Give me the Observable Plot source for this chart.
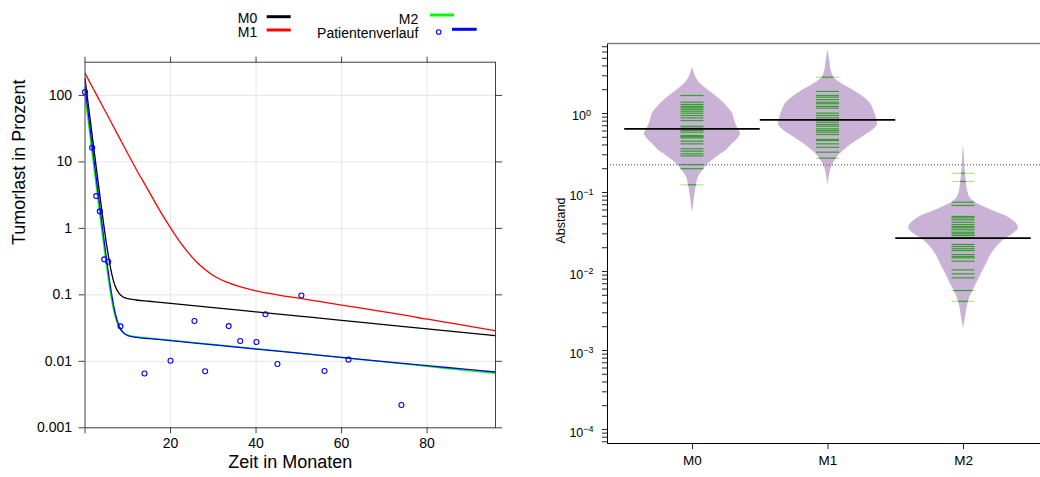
<!DOCTYPE html>
<html><head><meta charset="utf-8">
<script src="https://cdn.jsdelivr.net/npm/d3@7"></script>
<script src="https://cdn.jsdelivr.net/npm/@observablehq/plot@0.6"></script>
<style>
body{margin:0;background:#fff;font-family:"Liberation Sans",Arial,sans-serif;}
#wrap{position:relative;width:1040px;height:477px;overflow:hidden;}
#left{position:absolute;left:0;top:0;}
#right{position:absolute;left:540px;top:0;}
#legend{position:absolute;left:0;top:0;}
</style></head><body>
<div id="wrap"><div id="left"></div><div id="right"></div>
<svg id="legend" width="520" height="45" font-family="Liberation Sans, Arial, sans-serif" font-size="14"></svg></div>
<script>
// ---------- left panel data ----------
const months = [0,1,2,3,4,5,6,7,8,9,10,12,15,20,30,40,50,60,70,80,90,96];
const m0 = [180,55.7,17.3,5.41,1.73,0.60,0.249,0.138,0.104,0.0922,0.0877,0.0837,0.0801,0.0745,0.0642,0.0555,0.0479,0.0413,0.0356,0.0308,0.0265,0.0243];
const m2 = [100,30.2,9.12,2.78,0.86,0.277,0.102,0.0483,0.032,0.0268,0.0249,0.0235,0.0224,0.0208,0.0179,0.0155,0.0133,0.0114,0.0098,0.0084,0.0072,0.0066];
const patientFit = [133,40.2,12.1,3.66,1.13,0.359,0.126,0.0552,0.0336,0.0268,0.0244,0.0229,0.0219,0.0205,0.0177,0.0153,0.0133,0.0115,0.0099,0.0086,0.0075,0.0069];
const monthsM1 = [0,2,4,6,8,10,12,14,16,18,20,22,24,26,28,30,33,36,40,45,50,55,60,65,70,75,80,85,90,96];
const m1 = [216,124,71.3,40.8,23.4,13.4,7.7,4.6,2.73,1.64,1.02,0.655,0.442,0.317,0.242,0.196,0.157,0.134,0.115,0.100,0.089,0.0788,0.0702,0.0624,0.0554,0.0493,0.043,0.0382,0.0336,0.0288];
const patMonths = [0,1.68,2.62,3.46,4.49,5.43,8.30,13.92,20.0,25.6,28.1,33.6,36.3,40.1,42.2,45.0,50.6,56.0,61.6,74.0];
const patValues = [112,16.3,3.06,1.80,0.342,0.315,0.0336,0.00655,0.0102,0.0404,0.0071,0.0339,0.0202,0.0195,0.051,0.0091,0.098,0.00715,0.0106,0.0022];
const xTicks = [0,20,40,60,80];
const yTicks = [0.001,0.01,0.1,1,10,100];
const yTickLabels = ["0.001","0.01","0.1","1","10","100"];
const legendLabels = ["M0","M1","M2","Patientenverlauf"];

// ---------- right panel data ----------
const groups = ["M0","M1","M2"];
const beanM0Abstand = [3.855,3.18,2.62,2.15,1.775,1.46,1.20,0.991,0.815,0.671,0.553,0.479,0.413,0.34,0.28,0.231,0.19,0.156,0.117,0.0872,0.0685,0.0558];
const beanM0Width   = [0,0.0148,0.039,0.0886,0.15,0.212,0.26,0.297,0.31,0.33,0.354,0.334,0.297,0.249,0.177,0.118,0.076,0.044,0.027,0.0148,0.0074,0];
const beanM1Abstand = [6.4,4.69,3.5,2.88,2.38,1.955,1.61,1.33,1.09,0.857,0.705,0.61,0.501,0.413,0.34,0.28,0.231,0.19,0.156,0.123];
const beanM1Width   = [0,0.0133,0.0236,0.0428,0.103,0.19,0.264,0.314,0.338,0.358,0.363,0.326,0.252,0.179,0.117,0.068,0.038,0.018,0.0089,0];
const beanM2Abstand = [0.394,0.309,0.209,0.142,0.106,0.0872,0.0754,0.0652,0.0564,0.0487,0.0402,0.0347,0.030,0.0247,0.0203,0.0168,0.0138,0.0113,0.00935,0.00769,0.00632,0.00522,0.0043,0.00353,0.00264,0.00197,0.00188];
const beanM2Width   = [0,0.0052,0.0096,0.02,0.0295,0.0465,0.0834,0.157,0.2435,0.33,0.391,0.404,0.367,0.293,0.2435,0.207,0.182,0.157,0.133,0.108,0.0834,0.059,0.039,0.027,0.0148,0.0022,0];
const obsM0 = [1.69,1.39,1.30,1.23,1.18,1.13,1.07,1.01,0.944,0.88,0.815,0.69,0.652,0.61,0.58,0.527,0.51,0.492,0.446,0.413,0.357,0.333,0.309,0.291,0.226,0.2,0.125];
const obsM1 = [2.88,1.90,1.69,1.61,1.50,1.39,1.33,1.23,1.17,1.01,0.944,0.88,0.832,0.776,0.726,0.69,0.64,0.61,0.58,0.542,0.469,0.455,0.413,0.374,0.324,0.272];
const obsM2 = [0.175,0.138,0.0754,0.0685,0.0497,0.0478,0.0451,0.042,0.0393,0.0371,0.0357,0.0337,0.0314,0.030,0.0286,0.0267,0.022,0.0207,0.0194,0.0184,0.0164,0.0155,0.0149,0.0135,0.0105,0.00935,0.0083,0.00575,0.0042];
const groupMeans = [0.64,0.83,0.0264];
const overallMean = 0.224;
const decadeTicks = [1e-4,1e-3,1e-2,1e-1,1];
const decadeLabels = ["10^-4","10^-3","10^-2","10^-1","10^0"];

const FONT = "Liberation Sans, Arial, Helvetica, sans-serif";

// ---------- left plot ----------
const rows = (xs, ys) => xs.map((t,i)=>({t, v: ys[i]}));
const left = Plot.plot({
  width: 520, height: 477,
  marginLeft: 84.5, marginRight: 25, marginTop: 61.7, marginBottom: 49.7,
  style: {fontFamily: FONT, fontSize: "14px", color: "#000", background: "transparent"},
  x: {domain: [0, 96]},
  y: {type: "log", domain: [0.001, 316.2]},
  marks: [
    Plot.gridX(xTicks.slice(1), {stroke: "#e6e6e6", strokeOpacity: 1}),
    Plot.gridY(yTicks, {stroke: "#e6e6e6", strokeOpacity: 1}),
    Plot.line(rows(months, m0), {x: "t", y: "v", stroke: "black", strokeWidth: 1.3, curve: "monotone-x", clip: true}),
    Plot.line(rows(monthsM1, m1), {x: "t", y: "v", stroke: "#ff0000", strokeWidth: 1.3, curve: "monotone-x", clip: true}),
    Plot.line(rows(months, m2), {x: "t", y: "v", stroke: "#00ff00", strokeWidth: 1.3, curve: "monotone-x", clip: true}),
    Plot.line(rows(months, patientFit), {x: "t", y: "v", stroke: "#0000ff", strokeWidth: 1.3, curve: "monotone-x", clip: true}),
    Plot.dot(rows(patMonths, patValues), {x: "t", y: "v", r: 2.5, stroke: "#0000ff", fill: "none", strokeWidth: 1.1}),
    Plot.frame({stroke: "#404040"}),
    Plot.axisX(xTicks, {anchor: "bottom", tickSize: 6, tickPadding: 4, stroke: "#404040", fontSize: 14,
      tickFormat: d => d === 0 ? "" : String(d), label: null}),
    Plot.axisX(xTicks, {anchor: "top", tickSize: 6, stroke: "#404040", tickFormat: () => "", label: null}),
    Plot.axisY(yTicks, {anchor: "left", tickSize: 6, tickPadding: 7, stroke: "#404040", fontSize: 14,
      tickFormat: d => yTickLabels[yTicks.indexOf(d)], label: null}),
    Plot.axisY(yTicks, {anchor: "right", tickSize: 6, stroke: "#404040", tickFormat: () => "", label: null}),
    Plot.text(["Zeit in Monaten"], {frameAnchor: "bottom", dy: 40.5, fontSize: 18, fill: "#000"}),
    Plot.text(["Tumorlast in Prozent"], {frameAnchor: "left", dx: -66, rotate: -90, fontSize: 18, fill: "#000"})
  ]
});
document.getElementById("left").append(left);

// ---------- right plot ----------
const xmin = 0.373, xmax = 3.568;
const ylo = Math.pow(10, -4.177), yhi = Math.pow(10, 0.886);
const beanAbstand = [beanM0Abstand, beanM1Abstand, beanM2Abstand];
const beanWidth = [beanM0Width, beanM1Width, beanM2Width];
const obs = [obsM0, obsM1, obsM2];
const beanRows = [];
groups.forEach((g, gi) => beanAbstand[gi].forEach((v, i) =>
  beanRows.push({g, v, xl: gi + 1 - beanWidth[gi][i], xr: gi + 1 + beanWidth[gi][i]})));
function widthAt(gi, v) {
  const a = beanAbstand[gi], w = beanWidth[gi], lv = Math.log10(v);
  for (let i = 0; i < a.length - 1; i++) {
    const l0 = Math.log10(a[i]), l1 = Math.log10(a[i+1]);
    if ((lv <= l0 && lv >= l1)) { const f = (lv - l0) / (l1 - l0); return w[i] + f * (w[i+1] - w[i]); }
  }
  return 0;
}
const LL = 0.085;
const obsRows = [];
groups.forEach((g, gi) => obs[gi].forEach(v => obsRows.push({g, c: gi + 1, v, hw: Math.min(LL, widthAt(gi, v))})));
const outsideRows = obsRows.filter(d => d.hw < LL);
const meanRows = groupMeans.map((v, i) => ({c: i + 1, v}));
const minorTicks = [];
for (let k = -5; k <= 0; k++) for (let m = 1; m <= 9; m++) { const t = m * Math.pow(10, k); if (t >= ylo && t <= yhi) minorTicks.push(t); }

const right = Plot.plot({
  width: 500, height: 477,
  marginLeft: 67, marginRight: 0, marginTop: 43, marginBottom: 34,
  style: {fontFamily: FONT, fontSize: "13px", color: "#000", background: "transparent"},
  x: {domain: [xmin, xmax]},
  y: {type: "log", domain: [ylo, yhi]},
  marks: [
    Plot.areaX(beanRows, {y: "v", x1: "xl", x2: "xr", z: "g", fill: "#cab2d6", curve: "catmull-rom"}),
    Plot.ruleY([overallMean], {stroke: "#444", strokeWidth: 1, strokeDasharray: "1,2"}),
    Plot.ruleY(outsideRows, {y: "v", x1: d => d.c - LL, x2: d => d.c - d.hw, stroke: "#b2df8a", strokeWidth: 1.1}),
    Plot.ruleY(outsideRows, {y: "v", x1: d => d.c + d.hw, x2: d => d.c + LL, stroke: "#b2df8a", strokeWidth: 1.1}),
    Plot.ruleY(obsRows, {y: "v", x1: d => d.c - d.hw, x2: d => d.c + d.hw, stroke: "#33a02c", strokeWidth: 1.2}),
    Plot.ruleY(meanRows, {y: "v", x1: d => d.c - 0.5, x2: d => d.c + 0.5, stroke: "black", strokeWidth: 1.8}),
    Plot.ruleX([xmin], {stroke: "black", strokeWidth: 1}),
    Plot.ruleY([ylo], {stroke: "black", strokeWidth: 1.2}),
    Plot.ruleY([yhi], {stroke: "#808080", strokeWidth: 1.6}),
    Plot.axisY(minorTicks, {anchor: "left", tickSize: 5, stroke: "#222", tickFormat: () => "", label: null}),
    Plot.text(decadeTicks, {x: xmin, y: d => d, dx: -26, dy: 3, textAnchor: "middle", fontSize: 12.5,
      text: d => decadeLabels[decadeTicks.indexOf(d)]}),
    Plot.axisX([1, 2, 3], {anchor: "bottom", tickSize: 6, tickPadding: 6, stroke: "#222", fontSize: 13.5,
      tickFormat: d => groups[d - 1], label: null}),
    Plot.text(["Abstand"], {frameAnchor: "left", dx: -47, rotate: -90, fontSize: 12.5, fill: "#000"})
  ]
});
document.getElementById("right").append(right);
const NS = "http://www.w3.org/2000/svg";
Array.from(right.querySelectorAll("text")).filter(t => t.textContent.includes("^")).forEach(t => {
  const [b, e] = t.textContent.split("^");
  while (t.firstChild) t.removeChild(t.firstChild);
  const t1 = document.createElementNS(NS, "tspan"); t1.textContent = b;
  const t2 = document.createElementNS(NS, "tspan"); t2.textContent = e.replace("-", "\u2212");
  t2.setAttribute("dy", "-0.45em"); t2.setAttribute("font-size", "9");
  t.append(t1, t2);
});

// ---------- legend ----------
const lg = document.getElementById("legend");
function el(tag, attrs, txt) { const e = document.createElementNS(NS, tag); for (const k in attrs) e.setAttribute(k, attrs[k]); if (txt) e.textContent = txt; lg.append(e); }
el("text", {x: 257.3, y: 17.5, "text-anchor": "end", "dominant-baseline": "central"}, legendLabels[0]);
el("line", {x1: 266.7, x2: 290.7, y1: 16.7, y2: 16.7, stroke: "black", "stroke-width": 3});
el("text", {x: 257.3, y: 32.3, "text-anchor": "end", "dominant-baseline": "central"}, legendLabels[1]);
el("line", {x1: 266.7, x2: 290.7, y1: 30, y2: 30, stroke: "#ff0000", "stroke-width": 3});
el("text", {x: 418.3, y: 18.5, "text-anchor": "end", "dominant-baseline": "central"}, legendLabels[2]);
el("line", {x1: 430, x2: 454, y1: 15, y2: 15, stroke: "#00ff00", "stroke-width": 3});
el("text", {x: 418.3, y: 32.5, "text-anchor": "end", "dominant-baseline": "central"}, legendLabels[3]);
el("circle", {cx: 438.7, cy: 32, r: 2.3, stroke: "#0000ff", fill: "none", "stroke-width": 1.1});
el("line", {x1: 452, x2: 476.7, y1: 29.3, y2: 29.3, stroke: "#0000ff", "stroke-width": 3});
</script>
</body></html>
